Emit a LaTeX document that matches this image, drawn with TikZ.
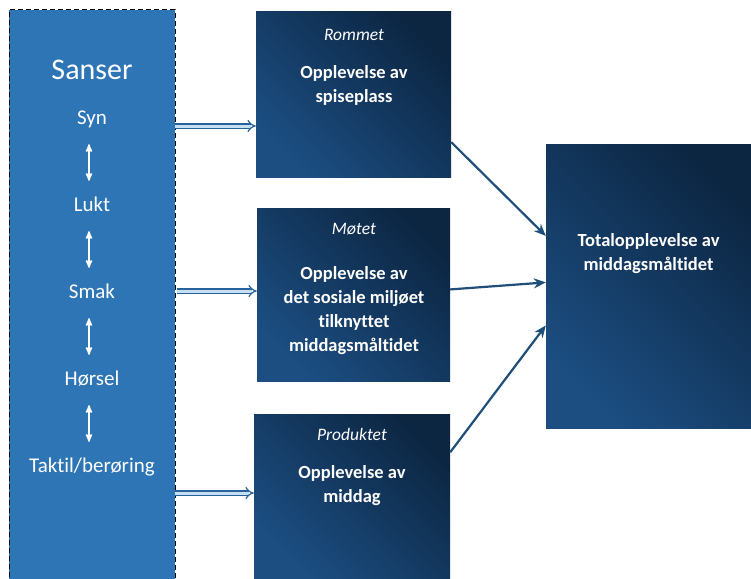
\documentclass[tikz,border=0pt]{standalone}
\usepackage{fontspec}
\setmainfont{Carlito}[RawFeature={-liga;-clig;-dlig}]
\usetikzlibrary{arrows}
\usetikzlibrary{arrows.meta}
\usetikzlibrary{calc}
\definecolor{sblue}{RGB}{46,117,182}
\definecolor{qdark}{RGB}{12,38,66}
\definecolor{qlight}{RGB}{28,78,130}
\definecolor{qline}{RGB}{31,78,121}
\definecolor{qpale}{RGB}{200,222,242}

\tikzset{
  box/.style={rectangle, shading=axis, top color=qdark, bottom color=qlight, shading angle=-45, inner sep=0pt},
  head/.style={text=white, font=\fontsize{17.5}{20}\selectfont\itshape},
  body/.style={text=white, align=center, anchor=north, font=\fontsize{18.5}{24}\selectfont\bfseries},
  sense/.style={text=white, font=\fontsize{21}{24}\selectfont, text height=14pt, text depth=4pt, inner sep=2pt},
  sensearrow/.style={white, line width=1.6pt, <->, >=stealth', shorten <=14pt, shorten >=14pt},
  dblarrow/.style={draw=sblue!85!black, double=qpale, double distance=3pt, line width=1.2pt, -implies},
  linkarrow/.style={qline, line width=2.2pt, -{Stealth[length=12pt,width=10pt]}}
}

\begin{document}
\begin{tikzpicture}[x=1pt,y=-1pt]
\useasboundingbox (0,0) rectangle (751,578);

% left column with the senses
\node[rectangle, fill=sblue, draw=black, line width=1pt, dash pattern=on 5pt off 3pt, minimum width=166pt, minimum height=570pt, inner sep=0pt] (sanser) at (92,295) {};
\node[text=white, font=\fontsize{30}{34}\selectfont] (title) at (92,70) {Sanser};

\foreach \s [count=\i] in {Syn,Lukt,Smak,Hørsel,{Taktil/berøring}}
{
  \def\ys{119+(\i-1)*87}
  \node[sense] (s\i) at (92,{\ys}) {\s};
}
\foreach \i [count=\j from 2] in {1,...,4}
  \draw[sensearrow] (s\i.south -| 89,0) -- (s\j.north -| 89,0);

% the three experiences
\node[box, minimum width=195pt, minimum height=165pt] (rommet) at (353.5,94.5) {};
\node[head] (rommethead) at (354,35) {Rommet};
\node[body] (rommetbody) at (354,62) {Opplevelse av\\spiseplass};

\node[box, minimum width=193pt, minimum height=173pt] (motet) at (353.5,294.5) {};
\node[head] (motethead) at (354,229) {Møtet};
\node[body] (motetbody) at (354,263) {Opplevelse av\\det sosiale miljøet\\tilknyttet\\middagsmåltidet};

\node[box, minimum width=196pt, minimum height=164pt] (produktet) at (352,496) {};
\node[head] (produktethead) at (352,434) {Produktet};
\node[body] (produktetbody) at (352,462) {Opplevelse av\\middag};

% total
\node[box, minimum width=205pt, minimum height=284pt] (total) at (648.5,286) {};
\node[body] (totalbody) at (648.5,230) {Totalopplevelse av\\middagsmåltidet};

% arrows from the senses
\coordinate (a1) at (175,126);
\coordinate (a2) at (177,291);
\coordinate (a3) at (175,493);
\draw[dblarrow] (a1) -- (a1 -| rommet.west);
\draw[dblarrow] (a2) -- (a2 -| motet.west);
\draw[dblarrow] (a3) -- (a3 -| produktet.west);

% arrows to the total
\draw[linkarrow] (rommet.-26) -- (total.154);
\draw[linkarrow] (motet.3) -- (total.178);
\draw[linkarrow] (produktet.24) -- (total.201);
\end{tikzpicture}
\end{document}
